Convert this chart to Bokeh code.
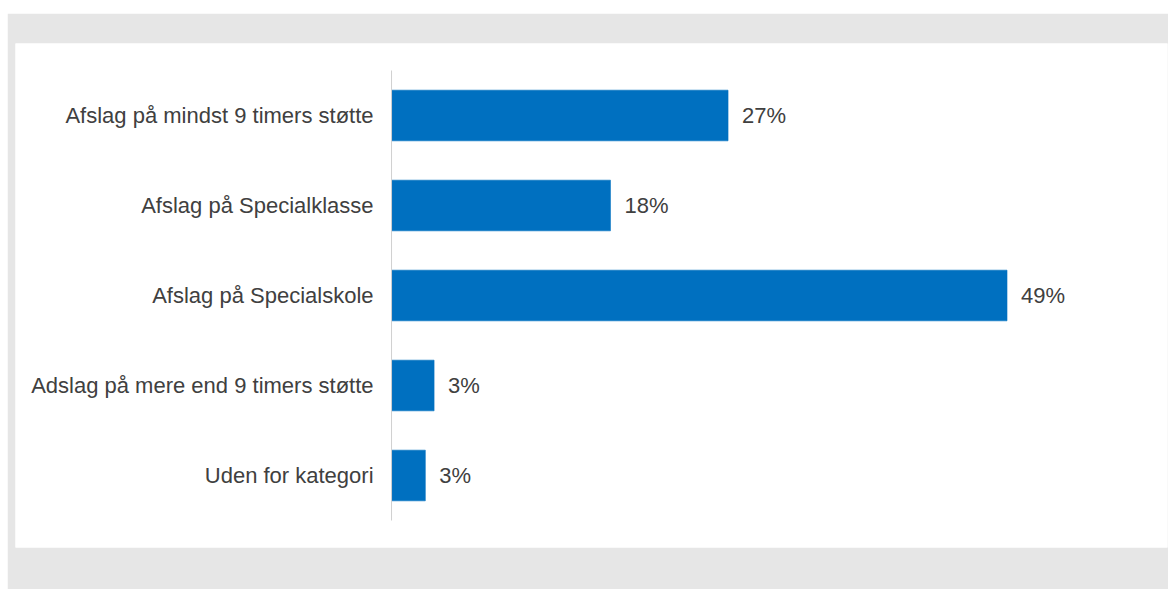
from bokeh.plotting import figure
from bokeh.models import Range1d, ColumnDataSource
from bokeh.core.properties import value
from bokeh.embed import file_html
from bokeh.resources import INLINE

categories = [
    "Afslag på mindst 9 timers støtte",
    "Afslag på Specialklasse",
    "Afslag på Specialskole",
    "Adslag på mere end 9 timers støtte",
    "Uden for kategori",
]
values = [26.9, 17.5, 49.2, 3.4, 2.7]
value_labels = ["27%", "18%", "49%", "3%", "3%"]

ypos = list(range(len(categories)))
src = ColumnDataSource(dict(y=ypos, v=values, lab=value_labels, cat=categories))

p = figure(
    width=1161, height=576,
    x_range=Range1d(-30.06, 62.03),
    y_range=Range1d(len(categories) - 0.2, -0.8),
    output_backend="svg", toolbar_location=None,
    min_border_left=8, min_border_right=1, min_border_top=30, min_border_bottom=42,
)
p.margin = (13, 0, 0, 7)
p.border_fill_color = "#e6e6e6"
p.background_fill_color = "white"
p.outline_line_color = None
p.xaxis.visible = False
p.yaxis.visible = False
p.grid.visible = False

p.hbar(y="y", right="v", left=0, height=0.563, source=src,
       fill_color="#0070c0", line_color="#0070c0", line_alpha=0.6)

# axis line
p.segment(x0=[0], x1=[0], y0=[-0.5], y1=[len(categories) - 0.5],
          line_color="#d0d0d0", line_width=1)

font = value("Liberation Sans")
p.text(x=0, y="y", text="cat", source=src, x_offset=-18,
       text_align="right", text_baseline="middle",
       text_font=font, text_font_size="22px", text_color="#404040")
p.text(x="v", y="y", text="lab", source=src, x_offset=14,
       text_align="left", text_baseline="middle",
       text_font=font, text_font_size="22px", text_color="#404040")

open("out.html", "w").write(file_html(p, INLINE))
